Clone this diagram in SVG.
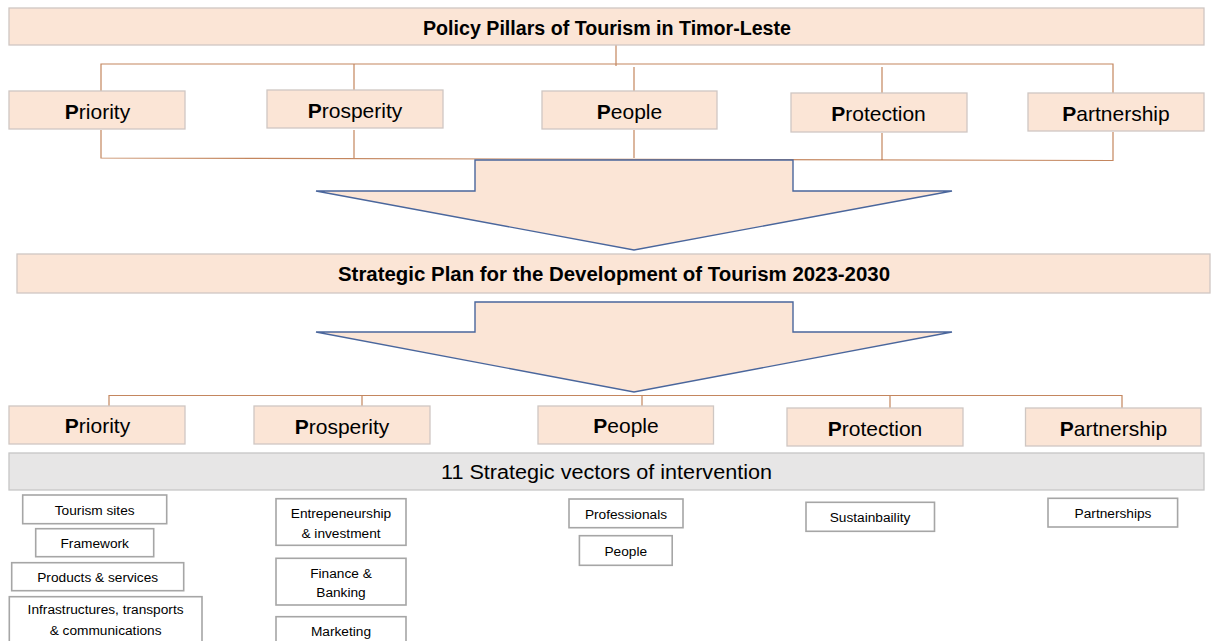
<svg xmlns="http://www.w3.org/2000/svg" width="1211" height="641" viewBox="0 0 1211 641">
  <style>
    text { font-family: "Liberation Sans", Arial, sans-serif; fill: #000; text-anchor: middle; }
    .band { fill: #fbe5d6; stroke: #cfc7c3; stroke-width: 1.3; }
    .pillar { fill: #fbe5d6; stroke: #cfc7c3; stroke-width: 1.3; }
    .pillar-label { font-size: 21px; }
    .pillar-label .init { font-weight: bold; }
    .head { font-size: 20px; font-weight: bold; }
    .vectors { fill: #e7e6e6; stroke: #c6c6c6; stroke-width: 1.3; }
    .vectors-label { font-size: 20px; }
    .item { fill: #ffffff; stroke: #a6a6a6; stroke-width: 1.6; }
    .item-label { font-size: 13.7px; }
    .link { fill: none; stroke: #c4865e; stroke-width: 1.2; }
    .flow { fill: #fbe5d6; stroke: #4a669c; stroke-width: 1.4; stroke-linejoin: miter; }
  </style>

  <!-- connectors -->
  <g id="connectors">
    <!-- upper pillar bracket -->
    <path class="link" d="M616 45 V66 M101 91 V64 H1113 V93 M354 64 V90 M634 67 V91 M882 67 V93"/>
    <path class="link" d="M101 130 V158 L1113 160.5 V132 M354 130 V158 M634 130 V158 M882 133 V160"/>
    <!-- lower pillar bracket -->
    <path class="link" d="M109 406 V395.5 H1122 V408 M362 395.5 V406 M642 395.5 V406 M890 395.5 V408"/>
    <!-- block arrows -->
    <polygon class="flow" points="475,160 793,160 793,191 952,191 634,250 316,191 475,191"/>
    <polygon class="flow" points="475,302 793,302 793,332 952,332 634,392 316,332 475,332"/>
  </g>

  <!-- headline bands -->
  <g id="policy-pillars">
    <rect class="band" x="9" y="8" width="1195" height="37"/>
    <text class="head" x="607" y="35" textLength="368" lengthAdjust="spacingAndGlyphs">Policy Pillars of Tourism in Timor-Leste</text>
  </g>
  <g id="strategic-plan">
    <rect class="band" x="17" y="254" width="1193" height="39"/>
    <text class="head" x="614" y="281" textLength="552" lengthAdjust="spacingAndGlyphs">Strategic Plan for the Development of Tourism 2023-2030</text>
  </g>

  <!-- pillars, upper row -->
  <g id="p1-priority">
    <rect class="pillar" x="9" y="91" width="176" height="38"/>
    <text class="pillar-label" x="97.5" y="118.5"><tspan class="init">P</tspan>riority</text>
  </g>
  <g id="p1-prosperity">
    <rect class="pillar" x="267" y="90" width="176" height="38"/>
    <text class="pillar-label" x="355" y="117.5"><tspan class="init">P</tspan>rosperity</text>
  </g>
  <g id="p1-people">
    <rect class="pillar" x="542" y="91" width="175" height="38"/>
    <text class="pillar-label" x="629.5" y="118.5"><tspan class="init">P</tspan>eople</text>
  </g>
  <g id="p1-protection">
    <rect class="pillar" x="791" y="93" width="176" height="39"/>
    <text class="pillar-label" x="878.5" y="121"><tspan class="init">P</tspan>rotection</text>
  </g>
  <g id="p1-partnership">
    <rect class="pillar" x="1028" y="93" width="176" height="38"/>
    <text class="pillar-label" x="1116" y="120.5"><tspan class="init">P</tspan>artnership</text>
  </g>

  <!-- pillars, lower row -->
  <g id="p2-priority">
    <rect class="pillar" x="9" y="406" width="176" height="38"/>
    <text class="pillar-label" x="97.5" y="433"><tspan class="init">P</tspan>riority</text>
  </g>
  <g id="p2-prosperity">
    <rect class="pillar" x="254" y="406" width="176" height="38"/>
    <text class="pillar-label" x="342" y="433.5"><tspan class="init">P</tspan>rosperity</text>
  </g>
  <g id="p2-people">
    <rect class="pillar" x="538" y="406" width="175.5" height="38"/>
    <text class="pillar-label" x="626" y="433"><tspan class="init">P</tspan>eople</text>
  </g>
  <g id="p2-protection">
    <rect class="pillar" x="787" y="408" width="176" height="38"/>
    <text class="pillar-label" x="875" y="435.5"><tspan class="init">P</tspan>rotection</text>
  </g>
  <g id="p2-partnership">
    <rect class="pillar" x="1025.5" y="408" width="175.5" height="38"/>
    <text class="pillar-label" x="1113.5" y="435.5"><tspan class="init">P</tspan>artnership</text>
  </g>

  <!-- vectors band -->
  <g id="vectors">
    <rect class="vectors" x="9" y="453" width="1195" height="37"/>
    <text class="vectors-label" x="606.5" y="478.5" textLength="331" lengthAdjust="spacingAndGlyphs">11 Strategic vectors of intervention</text>
  </g>

  <!-- intervention vectors -->
  <g id="v-tourism-sites">
    <rect class="item" x="22.7" y="495" width="144" height="28.7"/>
    <text class="item-label" x="94.7" y="514.5">Tourism sites</text>
  </g>
  <g id="v-framework">
    <rect class="item" x="35.7" y="528.7" width="118" height="28"/>
    <text class="item-label" x="94.7" y="547.7">Framework</text>
  </g>
  <g id="v-products">
    <rect class="item" x="11.7" y="562.7" width="172" height="28"/>
    <text class="item-label" x="97.7" y="581.7">Products &amp; services</text>
  </g>
  <g id="v-infrastructures">
    <rect class="item" x="9.3" y="596.7" width="192.7" height="60"/>
    <text class="item-label" x="105.6" y="614">Infrastructures, transports</text>
    <text class="item-label" x="105.6" y="635">&amp; communications</text>
  </g>
  <g id="v-entrepreneurship">
    <rect class="item" x="276" y="498.7" width="130" height="46.6"/>
    <text class="item-label" x="341" y="518">Entrepeneurship</text>
    <text class="item-label" x="341" y="538">&amp; investment</text>
  </g>
  <g id="v-finance">
    <rect class="item" x="276" y="558.3" width="130" height="46.7"/>
    <text class="item-label" x="341" y="578">Finance &amp;</text>
    <text class="item-label" x="341" y="597">Banking</text>
  </g>
  <g id="v-marketing">
    <rect class="item" x="276" y="616.7" width="130" height="40"/>
    <text class="item-label" x="341" y="636">Marketing</text>
  </g>
  <g id="v-professionals">
    <rect class="item" x="569" y="499" width="114" height="28.7"/>
    <text class="item-label" x="626" y="518.5">Professionals</text>
  </g>
  <g id="v-people">
    <rect class="item" x="579.4" y="535.7" width="92.8" height="29.6"/>
    <text class="item-label" x="625.8" y="555.5">People</text>
  </g>
  <g id="v-sustainability">
    <rect class="item" x="806" y="502.3" width="128.5" height="29"/>
    <text class="item-label" x="870" y="521.8">Sustainbaility</text>
  </g>
  <g id="v-partnerships">
    <rect class="item" x="1048" y="498.3" width="129.6" height="28.7"/>
    <text class="item-label" x="1113" y="517.5">Partnerships</text>
  </g>
</svg>
